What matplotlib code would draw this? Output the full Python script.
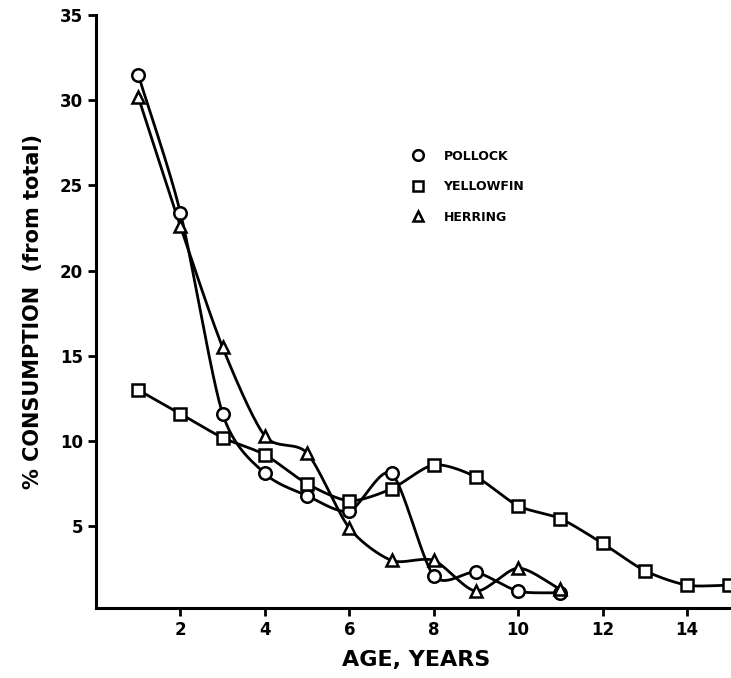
import numpy as np
import matplotlib
matplotlib.use("Agg")
import matplotlib.pyplot as plt

age_pollock = [1, 2, 3, 4, 5, 6, 7, 8, 9, 10, 11]
pollock = [31.5, 23.4, 11.6, 8.1, 6.8, 5.9, 8.1, 2.1, 2.3, 1.2, 1.1]
age_yellowfin = [1, 2, 3, 4, 5, 6, 7, 8, 9, 10, 11, 12, 13, 14, 15]
yellowfin = [13.0, 11.6, 10.2, 9.2, 7.5, 6.5, 7.2, 8.6, 7.9, 6.2, 5.45, 4.0, 2.4, 1.55, 1.55]
age_herring = [1, 2, 3, 4, 5, 6, 7, 8, 9, 10, 11]
herring = [30.2, 22.6, 15.5, 10.3, 9.3, 4.9, 3.0, 3.0, 1.2, 2.55, 1.3]

x_ticks = [2, 4, 6, 8, 10, 12, 14]
y_ticks = [5, 10, 15, 20, 25, 30, 35]


def smooth(xs, ys, n=30, tension=0.8):
    # Catmull-Rom style curve through the data points (rendering only)
    x = np.asarray(xs, float)
    y = np.asarray(ys, float)
    px = np.concatenate([[2 * x[0] - x[1]], x, [2 * x[-1] - x[-2]]])
    py = np.concatenate([[2 * y[0] - y[1]], y, [2 * y[-1] - y[-2]]])
    ox, oy = [], []
    t = np.linspace(0, 1, n)
    h00 = 2 * t ** 3 - 3 * t ** 2 + 1
    h10 = t ** 3 - 2 * t ** 2 + t
    h01 = -2 * t ** 3 + 3 * t ** 2
    h11 = t ** 3 - t ** 2
    for i in range(1, len(px) - 2):
        for arr, out in ((px, ox), (py, oy)):
            p0, p1, p2, p3 = arr[i - 1], arr[i], arr[i + 1], arr[i + 2]
            m1 = tension * (p2 - p0) / 2
            m2 = tension * (p3 - p1) / 2
            out.extend(h00 * p1 + h10 * m1 + h01 * p2 + h11 * m2)
    return ox, oy


fig = plt.figure(figsize=(7.31, 6.78), dpi=100)
ax = fig.add_axes([0.1313, 0.103, 0.875, 0.875])

series = [(age_pollock, pollock, 'o', 'POLLOCK'),
          (age_yellowfin, yellowfin, 's', 'YELLOWFIN'),
          (age_herring, herring, '^', 'HERRING')]
for xs, ys, m, lab in series:
    sx, sy = smooth(xs, ys)
    ax.plot(sx, sy, color='black', lw=2.0, zorder=2)
    ax.plot(xs, ys, linestyle='none', marker=m, markersize=9,
            markerfacecolor='white', markeredgecolor='black',
            markeredgewidth=1.8, zorder=3, label=lab)

ax.set_xlim(0, 15.15)
ax.set_ylim(0.2, 35)
ax.set_xticks(x_ticks)
ax.set_yticks(y_ticks)
for s in ['top', 'right']:
    ax.spines[s].set_visible(False)
for s in ['left', 'bottom']:
    ax.spines[s].set_linewidth(2.2)
ax.tick_params(axis='both', direction='out', width=2, length=6,
               labelsize=12)
for lbl in ax.get_xticklabels() + ax.get_yticklabels():
    lbl.set_fontweight('bold')

ax.set_xlabel('AGE, YEARS', fontsize=16, fontweight='bold', labelpad=8)
ax.set_ylabel('% CONSUMPTION  (from total)', fontsize=15,
              fontweight='bold', labelpad=12)

leg = ax.legend(loc='upper left', bbox_to_anchor=(0.467, 0.792),
                frameon=False, fontsize=9, handletextpad=1.0,
                labelspacing=1.4, markerscale=0.85)
for t in leg.get_texts():
    t.set_fontweight('bold')

fig.savefig('out.png', dpi=100)
